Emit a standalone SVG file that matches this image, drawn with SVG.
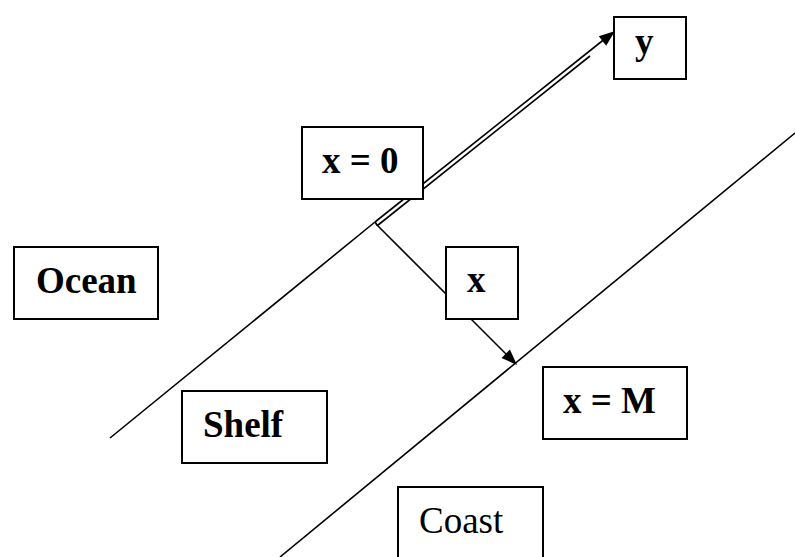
<svg xmlns="http://www.w3.org/2000/svg" width="795" height="557" viewBox="0 0 795 557">
<style>
.ln{stroke:#000;stroke-width:1.6;fill:none}
.box{fill:#fff;stroke:#000;stroke-width:2}
.t{font-family:"Liberation Serif","Times New Roman",serif;font-size:37px;font-weight:bold;fill:#000}
.r{font-weight:normal}
.head{fill:#000}
</style>
<rect width="795" height="557" fill="#fff"/>
<g id="connectors">
<line class="ln" x1="110" y1="438" x2="375" y2="222"/>
<line class="ln" x1="280" y1="557" x2="795" y2="133"/>
<line class="ln" x1="375" y1="222" x2="604" y2="39.5"/>
<line class="ln" x1="377.5" y1="225.5" x2="590" y2="56"/>
<line class="ln" x1="375" y1="222" x2="377.5" y2="225.5"/>
<polygon class="head" points="615,31 606.2,45.7 598.8,36.3"/>
<line class="ln" x1="376" y1="224" x2="508" y2="356"/>
<polygon class="head" points="517,365 501.5,357.9 509.9,349.5"/>
</g>
<g id="node-y"><rect class="box" x="614" y="17" width="72" height="62"/><text class="t" x="635" y="54">y</text></g>
<g id="node-x0"><rect class="box" x="302" y="127" width="121" height="72"/><text class="t" x="322" y="173">x = 0</text></g>
<g id="node-ocean"><rect class="box" x="14" y="247" width="144" height="72"/><text class="t" x="36" y="293">Ocean</text></g>
<g id="node-x"><rect class="box" x="446" y="247" width="72" height="72"/><text class="t" x="467" y="292">x</text></g>
<g id="node-xM"><rect class="box" x="543" y="367" width="144" height="72"/><text class="t" x="563" y="413">x = M</text></g>
<g id="node-shelf"><rect class="box" x="182" y="391" width="145" height="72"/><text class="t" x="203" y="437">Shelf</text></g>
<g id="node-coast"><rect class="box" x="398" y="487" width="145" height="80"/><text class="t r" x="419" y="533">Coast</text></g>
</svg>
